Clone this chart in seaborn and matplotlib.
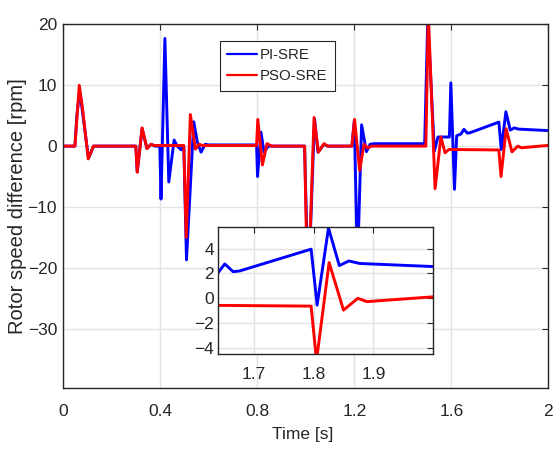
import numpy as np
import pandas as pd
import seaborn as sns
import matplotlib.pyplot as plt

# --- data (time in s, speed difference in rpm) ---
pi_t = [0.0, 0.048, 0.056, 0.064, 0.070, 0.078, 0.104, 0.125, 0.299, 0.305, 0.325,
        0.345, 0.362, 0.378, 0.398, 0.403, 0.419, 0.435, 0.457, 0.470, 0.486, 0.497,
        0.508, 0.538, 0.552, 0.568, 0.585, 0.60, 0.797, 0.801, 0.815, 0.828, 0.845,
        0.995, 1.010, 1.036, 1.050, 1.075, 1.09, 1.190, 1.200, 1.213, 1.230, 1.250,
        1.265, 1.28, 1.490, 1.503, 1.530, 1.545, 1.592, 1.598, 1.613, 1.622, 1.640,
        1.652, 1.666, 1.677, 1.796, 1.806, 1.825, 1.843, 1.859, 1.877, 2.0]
pi_v = [0.0, 0.0, 5.0, 7.8, 8.5, 6.0, -2.0, 0.0, 0.0, -4.2, 2.9,
        -0.4, 0.3, 0.0, 0.0, -8.7, 17.7, -5.9, 1.0, 0.0, -0.6, 0.0,
        -18.7, 4.0, 0.8, -1.0, 0.3, 0.2, 0.2, -5.0, 2.3, -1.0, 0.0,
        0.0, -24.0, 4.5, -1.0, 0.3, 0.0, 0.0, 4.2, -20.0, 3.5, -0.9,
        0.3, 0.4, 0.4, 21.0, -0.8, 1.5, 1.5, 10.4, -7.1, 1.7, 2.0,
        2.76, 2.14, 2.2, 3.95, -0.55, 5.65, 2.63, 3.0, 2.8, 2.55]

pso_t = [0.0, 0.048, 0.066, 0.080, 0.103, 0.124, 0.299, 0.305, 0.325, 0.345, 0.362,
         0.375, 0.497, 0.507, 0.524, 0.545, 0.560, 0.575, 0.797, 0.802, 0.821, 0.840,
         0.860, 0.995, 1.008, 1.034, 1.052, 1.075, 1.09, 1.190, 1.201, 1.222, 1.240,
         1.255, 1.27, 1.495, 1.505, 1.533, 1.557, 1.574, 1.590, 1.796, 1.805, 1.826,
         1.850, 1.874, 1.889, 1.937, 2.0]
pso_v = [0.0, 0.0, 10.0, 6.0, -2.1, 0.0, 0.0, -4.3, 3.0, -0.4, 0.3,
         0.1, 0.1, -15.0, 5.2, -0.5, 0.3, 0.1, 0.1, 4.4, -3.1, 0.4,
         0.0, 0.0, -26.0, 4.7, -1.0, 0.4, 0.0, 0.0, 4.4, -4.0, 0.3,
         -0.3, 0.0, 0.0, 22.0, -7.0, 1.5, -1.1, -0.55, -0.63, -5.0, 2.87,
         -0.95, 0.0, -0.27, -0.1, 0.12]

series_names = ['PI-SRE', 'PSO-SRE']
colors = {'PI-SRE': '#0000ff', 'PSO-SRE': '#ff0000'}

df = pd.concat([
    pd.DataFrame({'t': pi_t, 'v': pi_v, 'series': 'PI-SRE'}),
    pd.DataFrame({'t': pso_t, 'v': pso_v, 'series': 'PSO-SRE'}),
], ignore_index=True)

# --- style ---
sns.set_theme(style='whitegrid')
plt.rcParams['font.family'] = ['Liberation Sans', 'DejaVu Sans']
txt = '#262626'
grid_c = '#e3e3e3'

fig = plt.figure(figsize=(5.55, 4.53), dpi=100)
fig.patch.set_facecolor('white')
ax = fig.add_axes([0.114, 0.143, 0.874, 0.803])

sns.lineplot(data=df, x='t', y='v', hue='series', hue_order=series_names,
             palette=colors, estimator=None, linewidth=2.1, ax=ax)

ax.set_xlim(0, 2)
ax.set_ylim(-39.8, 20)
ax.set_xticks([0, 0.4, 0.8, 1.2, 1.6, 2.0])
ax.set_xticklabels(['0', '0.4', '0.8', '1.2', '1.6', '2'])
ax.set_yticks([-30, -20, -10, 0, 10, 20])
ax.set_xlabel('Time [s]', fontsize=12.5, color=txt)
ax.set_ylabel('Rotor speed difference [rpm]', fontsize=14.5, color=txt)
ax.xaxis.set_label_coords(0.494, -0.106)
ax.yaxis.set_label_coords(-0.075, 0.5)


def style_axes(a, xpad, ypad):
    a.set_facecolor('white')
    a.grid(True, color=grid_c, linewidth=1.0)
    for s in a.spines.values():
        s.set_color(txt)
        s.set_linewidth(1.0)
        s.set_visible(True)
    a.tick_params(direction='in', length=4, width=0.8, colors=txt,
                  top=True, right=True, labelsize=12.5)
    a.tick_params(axis='x', pad=xpad)
    a.tick_params(axis='y', pad=ypad)


style_axes(ax, 11.5, 4.5)

handles, labels = ax.get_legend_handles_labels()
leg = ax.legend(handles, labels, loc='upper left', bbox_to_anchor=(0.396, 0.91),
                bbox_transform=fig.transFigure, fontsize=10.8, frameon=True,
                fancybox=False, edgecolor=txt, framealpha=1.0, handlelength=1.95,
                borderpad=0.5, labelspacing=0.45, handletextpad=0.2, borderaxespad=0)
leg.get_frame().set_linewidth(0.8)
for line in leg.get_lines():
    line.set_linewidth(1.6)

# --- inset zoom on 1.64 - 2.0 s ---
ins = fig.add_axes([0.392, 0.218, 0.389, 0.280])
sns.lineplot(data=df, x='t', y='v', hue='series', hue_order=series_names,
             palette=colors, estimator=None, linewidth=2.1, ax=ins, legend=False)
ins.set_xlim(1.64, 2.0)
ins.set_ylim(-4.5, 5.7)
ins.set_xticks([1.7, 1.8, 1.9])
ins.set_yticks([-4, -2, 0, 2, 4])
ins.set_xlabel('')
ins.set_ylabel('')
style_axes(ins, 9, 2.5)

fig.savefig('out.png', dpi=100)
